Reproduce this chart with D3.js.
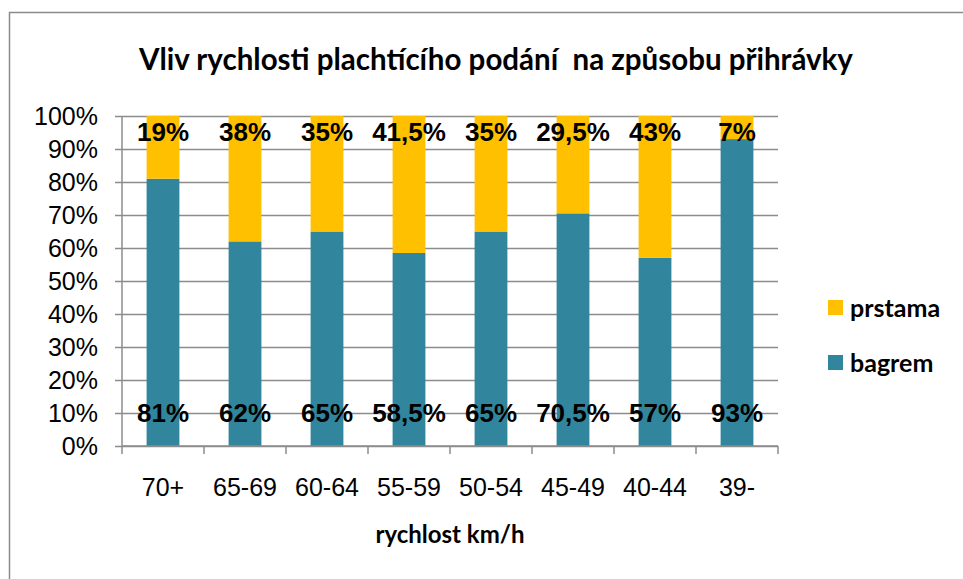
<!DOCTYPE html>
<html>
<head>
<meta charset="utf-8">
<script src="https://cdn.jsdelivr.net/npm/d3@7"></script>
<style>
  body { margin: 0; background: #fff; }
  svg { display: block; }
</style>
</head>
<body>
<div id="chart-area"></div>
<script>
// data
var categories = ["70+", "65-69", "60-64", "55-59", "50-54", "45-49", "40-44", "39-"];
var bagrem = [81, 62, 65, 58.5, 65, 70.5, 57, 93];
var prstama = [19, 38, 35, 41.5, 35, 29.5, 43, 7];
var yTicks = [0, 10, 20, 30, 40, 50, 60, 70, 80, 90, 100];
var seriesNames = ["prstama", "bagrem"];
var colors = { bagrem: "#31859C", prstama: "#FFC000" };

var W = 963, H = 579;
var margin = { left: 122, right: 185, top: 116, bottom: 133 };
var width = W - margin.left - margin.right;
var height = H - margin.top - margin.bottom;

var svg = d3.select("#chart-area")
    .append("svg")
    .attr("width", W)
    .attr("height", H);

// outer chart frame (only top and left visible)
svg.append("path")
    .attr("d", "M9.5," + H + "V12.5H" + W)
    .attr("fill", "none")
    .attr("stroke", "#8a8a8a")
    .attr("stroke-width", 1.5);

svg.append("text")
    .attr("x", 496)
    .attr("y", 70)
    .attr("text-anchor", "middle")
    .attr("font-family", "Lato, 'Open Sans', sans-serif")
    .attr("font-weight", "bold")
    .attr("font-size", "29.5px")
    .style("white-space", "pre")
    .text("Vliv rychlosti plachtícího podání  na způsobu přihrávky");

var g = svg.append("g")
    .attr("transform", "translate(" + margin.left + "," + margin.top + ")");

var x = d3.scaleBand()
    .domain(categories)
    .range([0, width])
    .paddingInner(0.6)
    .paddingOuter(0.3);

var y = d3.scaleLinear()
    .domain([0, 100])
    .range([height, 0]);

// gridlines + y axis
var yAxisCall = d3.axisLeft(y)
    .tickValues(yTicks)
    .tickSize(-width)
    .tickFormat(function (d) { return d + "%"; });

var yAxis = g.append("g")
    .attr("class", "y-axis")
    .call(yAxisCall);
yAxis.select(".domain").remove();
yAxis.selectAll("line")
    .attr("x1", -7)
    .attr("stroke", "#8c8c8c")
    .attr("stroke-width", 1.5);
yAxis.selectAll("text")
    .attr("x", -24)
    .attr("font-family", "Arial, 'Liberation Sans', sans-serif")
    .attr("font-size", "25px")
    .attr("fill", "#000");

// stacked bars
var rows = categories.map(function (c, i) {
    return { cat: c, bagrem: bagrem[i], prstama: prstama[i] };
});
var stack = d3.stack().keys(["bagrem", "prstama"]);
var layers = stack(rows);

g.selectAll(".layer")
    .data(layers)
    .enter().append("g")
    .attr("class", "layer")
    .attr("fill", function (d) { return colors[d.key]; })
    .selectAll("rect")
    .data(function (d) { return d; })
    .enter().append("rect")
    .attr("x", function (d) { return x(d.data.cat); })
    .attr("y", function (d) { return y(d[1]); })
    .attr("width", x.bandwidth())
    .attr("height", function (d) { return y(d[0]) - y(d[1]); });

// x axis
var xAxisCall = d3.axisBottom(x).tickSize(0).tickPadding(0);
var xAxis = g.append("g")
    .attr("class", "x-axis")
    .attr("transform", "translate(0," + height + ")")
    .call(xAxisCall);
xAxis.select(".domain").remove();
xAxis.selectAll("text")
    .attr("y", 32)
    .attr("font-family", "Arial, 'Liberation Sans', sans-serif")
    .attr("font-size", "25px")
    .attr("fill", "#000");

g.append("line")
    .attr("x1", 0).attr("x2", width)
    .attr("y1", height).attr("y2", height)
    .attr("stroke", "#8c8c8c").attr("stroke-width", 1.5);
g.append("line")
    .attr("x1", 0).attr("x2", 0)
    .attr("y1", 0).attr("y2", height)
    .attr("stroke", "#8c8c8c").attr("stroke-width", 1.5);
g.selectAll(".xtick")
    .data(d3.range(categories.length + 1))
    .enter().append("line")
    .attr("class", "xtick")
    .attr("x1", function (i) { return i * x.step(); })
    .attr("x2", function (i) { return i * x.step(); })
    .attr("y1", height)
    .attr("y2", height + 8)
    .attr("stroke", "#8c8c8c").attr("stroke-width", 1.5);

// data labels
var fmt = function (v) { return String(v).replace(".", ",") + "%"; };
g.selectAll(".lab-top")
    .data(rows)
    .enter().append("text")
    .attr("class", "lab-top")
    .attr("x", function (d) { return x(d.cat) + x.bandwidth() / 2; })
    .attr("y", y(92.3))
    .attr("text-anchor", "middle")
    .attr("font-family", "Arial, 'Liberation Sans', sans-serif")
    .attr("font-weight", "bold")
    .attr("font-size", "26px")
    .text(function (d) { return fmt(d.prstama); });

g.selectAll(".lab-bot")
    .data(rows)
    .enter().append("text")
    .attr("class", "lab-bot")
    .attr("x", function (d) { return x(d.cat) + x.bandwidth() / 2; })
    .attr("y", y(10))
    .attr("dy", "0.35em")
    .attr("text-anchor", "middle")
    .attr("font-family", "Arial, 'Liberation Sans', sans-serif")
    .attr("font-weight", "bold")
    .attr("font-size", "26px")
    .text(function (d) { return fmt(d.bagrem); });

// x axis title
svg.append("text")
    .attr("x", 450)
    .attr("y", 543)
    .attr("text-anchor", "middle")
    .attr("font-family", "Lato, 'Open Sans', sans-serif")
    .attr("font-weight", "bold")
    .attr("font-size", "24px")
    .text("rychlost km/h");

// legend
var legend = svg.selectAll(".legend")
    .data(seriesNames)
    .enter().append("g")
    .attr("class", "legend")
    .attr("transform", function (d, i) { return "translate(828," + (300 + i * 55) + ")"; });
legend.append("rect")
    .attr("width", 15)
    .attr("height", 15)
    .attr("fill", function (d) { return colors[d]; });
legend.append("text")
    .attr("x", 22)
    .attr("y", 8)
    .attr("dy", "0.35em")
    .attr("font-family", "Lato, 'Open Sans', sans-serif")
    .attr("font-weight", "bold")
    .attr("font-size", "25px")
    .text(function (d) { return d; });
</script>
</body>
</html>
